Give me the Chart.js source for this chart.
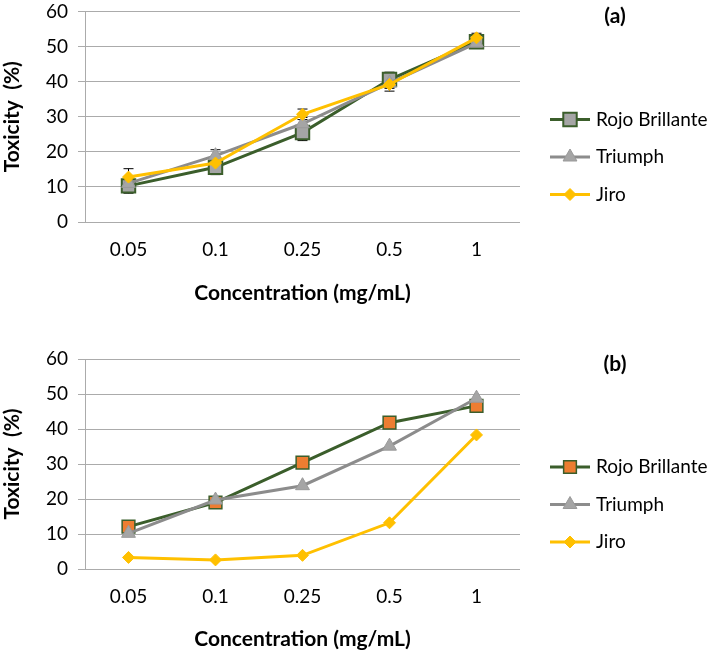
<!DOCTYPE html>
<html>
<head>
<meta charset="utf-8">
<script src="https://cdn.jsdelivr.net/npm/chart.js@4.4.1/dist/chart.umd.min.js"></script>
<style>
  body { margin: 0; background: #fff; }
  .panel { position: relative; width: 709px; }
</style>
</head>
<body>
<div class="panel" style="height:320px"><canvas id="chartA"></canvas></div>
<div class="panel" style="height:331px"><canvas id="chartB"></canvas></div>
<script>
const concentrations = ['0.05', '0.1', '0.25', '0.5', '1'];
const seriesNames = ['Rojo Brillante', 'Triumph', 'Jiro'];

// panel (a), with error bars
const rojoA = [10.3, 15.6, 25.5, 40.6, 51.4];
const triumphA = [11.0, 18.9, 28.0, 39.6, 51.0];
const jiroA = [12.8, 16.8, 30.7, 39.2, 52.5];
const rojoErrA = [2.1, 2.1, 2.3, 2.1, 1.5];
const triumphErrA = [1.5, 1.7, 1.8, 1.5, 1.0];
const jiroErrA = [2.4, 1.5, 1.5, 1.9, 1.3];

// panel (b)
const rojoB = [12.1, 19.0, 30.4, 41.8, 46.6];
const triumphB = [10.2, 19.7, 23.8, 35.1, 48.8];
const jiroB = [3.3, 2.6, 3.9, 13.2, 38.3];

const FONT = 'Lato, "Open Sans", sans-serif';
const GREEN = '#3B5E2B';
const GRAY = '#8C8C8C';
const GOLD = '#FFC000';

// error bars drawn under the markers
const errorBars = {
  id: 'errorBars',
  beforeDatasetsDraw(chart) {
    const ctx = chart.ctx;
    const y = chart.scales.y;
    ctx.save();
    ctx.strokeStyle = '#000';
    ctx.lineWidth = 1;
    chart.data.datasets.forEach((ds, i) => {
      if (!ds.errors) return;
      chart.getDatasetMeta(i).data.forEach((pt, j) => {
        const top = y.getPixelForValue(ds.data[j] + ds.errors[j]);
        const bot = y.getPixelForValue(ds.data[j] - ds.errors[j]);
        ctx.beginPath();
        ctx.moveTo(pt.x, top); ctx.lineTo(pt.x, bot);
        ctx.moveTo(pt.x - 5, top); ctx.lineTo(pt.x + 5, top);
        ctx.moveTo(pt.x - 5, bot); ctx.lineTo(pt.x + 5, bot);
        ctx.stroke();
      });
    });
    ctx.restore();
  }
};

// legend on the right + panel letter
const sideLegend = {
  id: 'sideLegend',
  afterDraw(chart, args, opts) {
    const ctx = chart.ctx;
    const top = chart.chartArea.top;
    ctx.save();
    ctx.font = 'bold 21px ' + FONT;
    ctx.fillStyle = '#000';
    ctx.textAlign = 'center';
    ctx.textBaseline = 'middle';
    ctx.fillText(opts.letter, 615, top + 5);

    ctx.font = '19px ' + FONT;
    ctx.textAlign = 'left';
    chart.data.datasets.forEach((ds, i) => {
      const yy = top + 108 + i * 37.5;
      ctx.strokeStyle = ds.borderColor;
      ctx.lineWidth = ds.borderWidth;
      ctx.beginPath();
      ctx.moveTo(550, yy); ctx.lineTo(590, yy);
      ctx.stroke();
      ctx.fillStyle = ds.pointBackgroundColor;
      ctx.strokeStyle = ds.pointBorderColor;
      ctx.lineWidth = ds.pointBorderWidth;
      Chart.helpers.drawPoint(ctx, {
        pointStyle: ds.pointStyle, radius: ds.pointRadius, borderWidth: ds.pointBorderWidth
      }, 570, yy);
      ctx.fillStyle = '#000';
      ctx.fillText(ds.label, 596, yy);
    });
    ctx.restore();
  }
};

function makeChart(id, data, errs, squareFill, letter, pad) {
  const datasets = [
    { label: seriesNames[0], data: data[0], errors: errs ? errs[0] : null, order: 3,
      borderColor: GREEN, borderWidth: 3, pointStyle: 'rect', pointRadius: errs ? 9.5 : 9,
      pointBackgroundColor: squareFill, pointBorderColor: GREEN, pointBorderWidth: errs ? 2 : 1.5 },
    { label: seriesNames[1], data: data[1], errors: errs ? errs[1] : null, order: 2,
      borderColor: GRAY, borderWidth: 3, pointStyle: 'triangle', pointRadius: 8,
      pointBackgroundColor: '#A5A5A5', pointBorderColor: '#999999', pointBorderWidth: 1 },
    { label: seriesNames[2], data: data[2], errors: errs ? errs[2] : null, order: 1,
      borderColor: GOLD, borderWidth: 3, pointStyle: 'rectRot', pointRadius: 6,
      pointBackgroundColor: GOLD, pointBorderColor: GOLD, pointBorderWidth: 1 }
  ];
  return new Chart(document.getElementById(id), {
    type: 'line',
    data: { labels: concentrations, datasets: datasets },
    plugins: [errorBars, sideLegend],
    options: {
      responsive: true,
      maintainAspectRatio: false,
      animation: false,
      layout: { padding: { left: 0, right: 189, top: pad.top, bottom: 0 } },
      plugins: {
        legend: { display: false },
        tooltip: { enabled: false },
        sideLegend: { letter: letter }
      },
      elements: { line: { tension: 0 } },
      scales: {
        x: {
          offset: true,
          grid: { display: false, drawTicks: false },
          border: { display: false },
          ticks: { color: '#000', font: { family: FONT, size: 19 }, padding: 16 },
          title: { display: true, text: 'Concentration (mg/mL)', color: '#000',
                   font: { family: FONT, size: 21, weight: 'bold' }, padding: { top: 0, bottom: pad.titleBottom } },
          afterFit(scale) { scale.height = pad.xHeight; scale.paddingLeft = 0; scale.paddingRight = 0; }
        },
        y: {
          min: 0, max: 60,
          ticks: { stepSize: 10, color: '#000', font: { family: FONT, size: 19 }, padding: 10 },
          grid: { color: '#ABABAB', lineWidth: 1, tickLength: 7 },
          border: { display: true, color: '#ABABAB' },
          title: { display: true, text: 'Toxicity  (%)', color: '#000',
                   font: { family: FONT, size: 21, weight: 'bold' }, padding: { top: 0, bottom: 0 } },
          afterFit(scale) { scale.width = 85; scale.paddingTop = 0; scale.paddingBottom = 0; }
        }
      }
    }
  });
}

makeChart('chartA', [rojoA, triumphA, jiroA], [rojoErrA, triumphErrA, jiroErrA], '#A5A5A5', '(a)',
  { top: 10, xHeight: 98, titleBottom: 14 });
makeChart('chartB', [rojoB, triumphB, jiroB], null, '#ED7D31', '(b)',
  { top: 39, xHeight: 82, titleBottom: -1 });
</script>
</body>
</html>
